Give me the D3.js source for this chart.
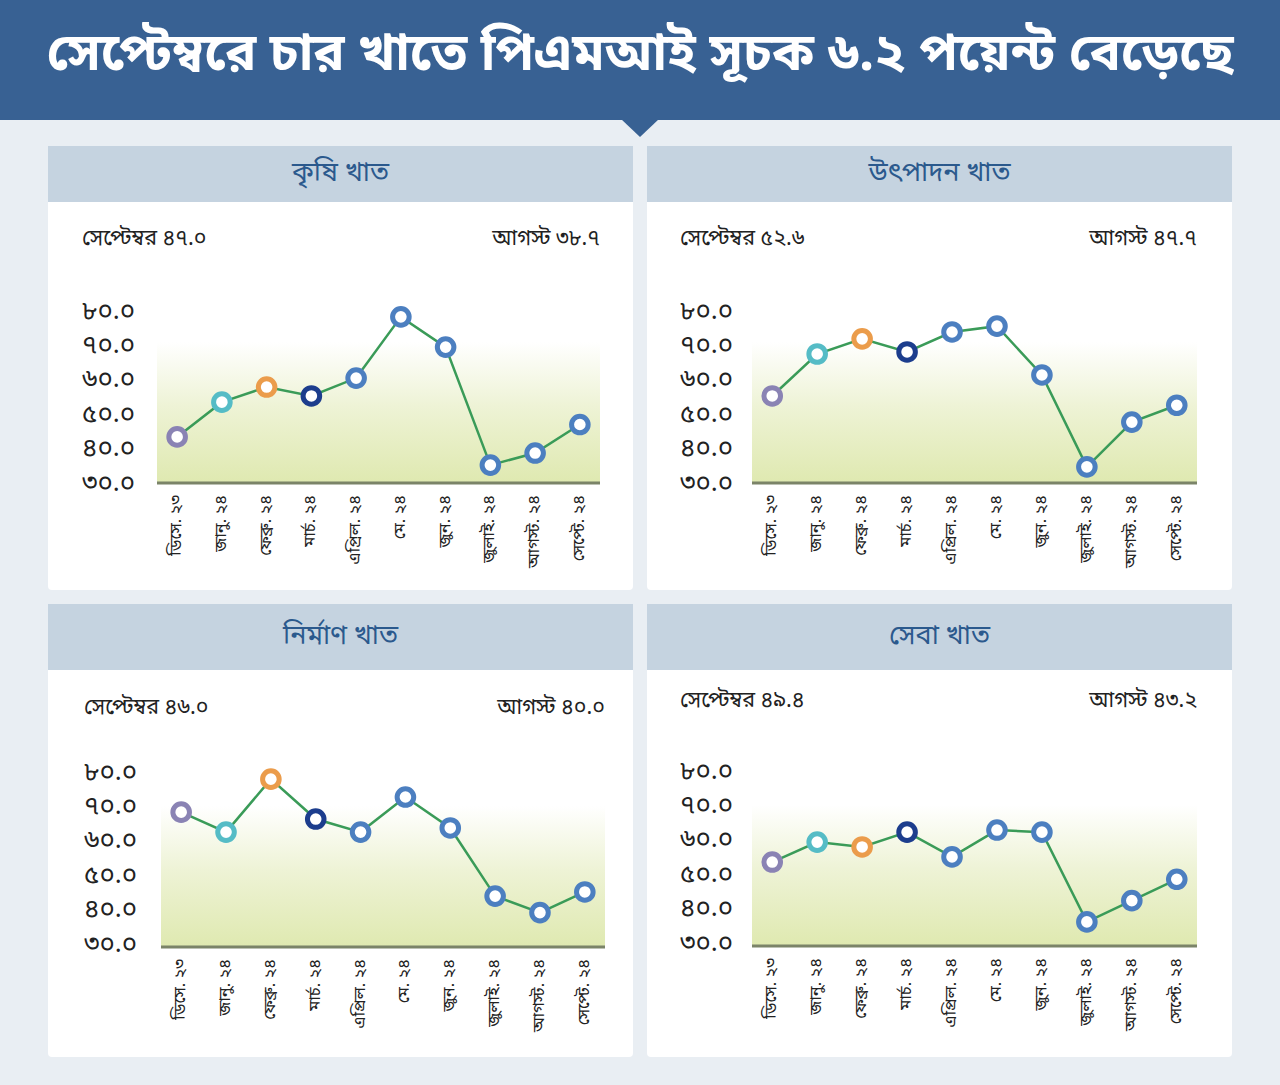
<!DOCTYPE html>
<html>
<head>
<meta charset="utf-8">
<script src="https://cdn.jsdelivr.net/npm/d3@7"></script>
<style>
  body { margin: 0; background: #e9eef3; }
  svg text { font-family: "Noto Sans Bengali", "Noto Serif Bengali", "Lohit Bengali", "FreeSerif", "Noto Sans", sans-serif; }
</style>
</head>
<body>
<div id="chart"></div>
<script>
// ---- data ----
const title = "সেপ্টেম্বরে চার খাতে পিএমআই সূচক ৬.২ পয়েন্ট বেড়েছে";
const months = ["ডিসে. ২৩", "জানু. ২৪", "ফেব্রু. ২৪", "মার্চ. ২৪", "এপ্রিল. ২৪", "মে. ২৪", "জুন. ২৪", "জুলাই. ২৪", "আগস্ট. ২৪", "সেপ্টে. ২৪"];
const sectors = ["কৃষি খাত", "উৎপাদন খাত", "নির্মাণ খাত", "সেবা খাত"];
const agriculture = [43.4, 53.5, 57.9, 55.3, 60.5, 78.3, 69.5, 35.2, 38.7, 47.0];
const manufacturing = [55.3, 67.5, 71.9, 68.1, 73.9, 75.6, 61.4, 34.7, 47.7, 52.6];
const construction = [69.2, 63.4, 78.8, 67.2, 63.4, 73.6, 64.6, 44.8, 40.0, 46.0];
const services = [54.4, 60.2, 58.8, 63.1, 55.9, 63.7, 63.1, 37.0, 43.2, 49.4];
const yTicks = [30, 40, 50, 60, 70, 80];
const septLabel = "সেপ্টেম্বর";
const augLabel = "আগস্ট";

const series = [agriculture, manufacturing, construction, services];

// bengali digits
const bnDigits = "০১২৩৪৫৬৭৮৯";
const toBn = s => String(s).replace(/[0-9]/g, c => bnDigits[+c]);

// marker colours: first four months get their own, rest blue
const markerColors = ["#8a83b4", "#55bcc6", "#eb9c4b", "#1c3d8d"];
const markerDefault = "#4c7fc0";

const W = 1280, H = 1085;

const svg = d3.select("#chart")
  .append("svg")
  .attr("width", W)
  .attr("height", H);

// background
svg.append("rect")
  .attr("width", W)
  .attr("height", H)
  .attr("fill", "#e9eef3");

const defs = svg.append("defs");
const grad = defs.append("linearGradient")
  .attr("id", "areaGrad")
  .attr("x1", 0).attr("y1", 0)
  .attr("x2", 0).attr("y2", 1);
grad.append("stop").attr("offset", "0%").attr("stop-color", "#ffffff");
grad.append("stop").attr("offset", "18%").attr("stop-color", "#ffffff");
grad.append("stop").attr("offset", "55%").attr("stop-color", "#eef3d6");
grad.append("stop").attr("offset", "100%").attr("stop-color", "#dfe9b0");

// Title band
svg.append("rect")
  .attr("x", 0).attr("y", 0)
  .attr("width", W).attr("height", 120)
  .attr("fill", "#386193");

svg.append("path")
  .attr("d", "M621,119 L659,119 L640,137 Z")
  .attr("fill", "#386193");

svg.append("text")
  .attr("x", W / 2)
  .attr("y", 56)
  .attr("text-anchor", "middle")
  .attr("dominant-baseline", "central")
  .attr("fill", "#fff")
  .style("font-size", "52px")
  .style("font-weight", "bold")
  .text(title);

// panels
const panels = [
  { x: 48, y: 146, head: 56, bottom: 590, x0: 157, x1: 600, y30: 483, lblX: 82, subY: 239, dy: 1 },
  { x: 647, y: 146, head: 56, bottom: 590, x0: 752, x1: 1197, y30: 483, lblX: 680, subY: 239, dy: 1 },
  { x: 48, y: 604, head: 66, bottom: 1057, x0: 161, x1: 605, y30: 947, lblX: 84, subY: 708, dy: -2 },
  { x: 647, y: 604, head: 66, bottom: 1057, x0: 752, x1: 1197, y30: 946, lblX: 680, subY: 701, dy: -2 }
];
const panelW = 585;

panels.forEach((p, i) => {
  const data = series[i];
  const g = svg.append("g");

  // panel body
  g.append("rect")
    .attr("x", p.x).attr("y", p.y)
    .attr("width", panelW).attr("height", p.bottom - p.y)
    .attr("rx", 4)
    .attr("fill", "#fff");

  // header strip
  g.append("rect")
    .attr("x", p.x).attr("y", p.y)
    .attr("width", panelW).attr("height", p.head)
    .attr("fill", "#c5d3e0");

  g.append("text")
    .attr("x", p.x + panelW / 2)
    .attr("y", p.y + p.head / 2)
    .attr("text-anchor", "middle")
    .attr("dominant-baseline", "central")
    .attr("fill", "#2b598d")
    .style("font-size", "27px")
    .text(sectors[i]);

  // sept / aug values
  g.append("text")
    .attr("x", p.lblX)
    .attr("y", p.subY)
    .attr("dominant-baseline", "central")
    .attr("fill", "#222")
    .style("font-size", "21.5px")
    .text(septLabel + " " + toBn(data[data.length - 1].toFixed(1)));

  g.append("text")
    .attr("x", p.x1)
    .attr("y", p.subY)
    .attr("text-anchor", "end")
    .attr("dominant-baseline", "central")
    .attr("fill", "#222")
    .style("font-size", "21.5px")
    .text(augLabel + " " + toBn(data[data.length - 2].toFixed(1)));

  const x = d3.scalePoint()
    .domain(months)
    .range([p.x0, p.x1])
    .padding(0.45);

  const y = d3.scaleLinear()
    .domain([30, 80])
    .range([p.y30, p.y30 - 172]);

  // shaded area
  g.append("rect")
    .attr("x", p.x0)
    .attr("y", y(80))
    .attr("width", p.x1 - p.x0)
    .attr("height", y(30) - y(80))
    .attr("fill", "url(#areaGrad)");

  // baseline
  g.append("line")
    .attr("x1", p.x0).attr("x2", p.x1)
    .attr("y1", y(30)).attr("y2", y(30))
    .attr("stroke", "#7b8468")
    .attr("stroke-width", 3);

  // y labels
  g.selectAll(".ytick")
    .data(yTicks)
    .enter()
    .append("text")
    .attr("x", p.lblX)
    .attr("y", d => y(d) + p.dy)
    .attr("dominant-baseline", "central")
    .attr("fill", "#222")
    .style("font-size", "26px")
    .text(d => toBn(d.toFixed(1)));

  // x labels (rotated)
  g.selectAll(".xtick")
    .data(months)
    .enter()
    .append("text")
    .attr("transform", d => `translate(${x(d)},${y(30) + 12}) rotate(-90)`)
    .attr("text-anchor", "end")
    .attr("dominant-baseline", "central")
    .attr("fill", "#222")
    .style("font-size", "16.5px")
    .text(d => d);

  // line
  const line = d3.line()
    .x((d, j) => x(months[j]))
    .y(d => y(d));

  g.append("path")
    .datum(data)
    .attr("d", line)
    .attr("fill", "none")
    .attr("stroke", "#3a9b58")
    .attr("stroke-width", 2.5);

  // ring markers
  g.selectAll(".pt")
    .data(data)
    .enter()
    .append("circle")
    .attr("cx", (d, j) => x(months[j]))
    .attr("cy", d => y(d))
    .attr("r", 8.3)
    .attr("fill", "#fff")
    .attr("stroke", (d, j) => markerColors[j] || markerDefault)
    .attr("stroke-width", 5);
});
</script>
</body>
</html>
